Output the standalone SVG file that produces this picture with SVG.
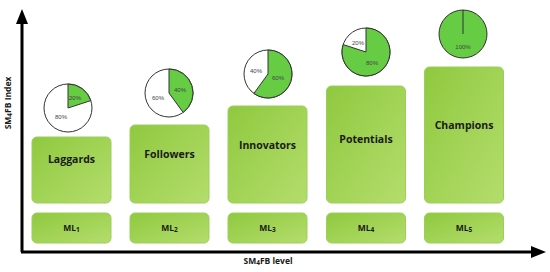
<svg xmlns="http://www.w3.org/2000/svg" width="550" height="272" viewBox="0 0 550 272">
<style>
.box{fill:url(#g);stroke:#9ccf5a;stroke-width:1}
.lbl{font-family:"Open Sans","Liberation Sans",sans-serif;font-weight:bold;font-size:10.5px;fill:#1a1a1a;text-anchor:middle}
.ml{font-family:"Open Sans","Liberation Sans",sans-serif;font-weight:bold;font-size:8.5px;fill:#1a1a1a;text-anchor:middle}
.ax{font-family:"Open Sans","Liberation Sans",sans-serif;font-weight:bold;font-size:8.5px;fill:#1a1a1a;text-anchor:middle}
.pw{fill:#ffffff;stroke:#333333;stroke-width:1}
.pg{fill:#66cc44;stroke:#333333;stroke-width:1}
.pt{font-family:"Liberation Sans",Arial,sans-serif;font-size:6px;fill:#444444;text-anchor:middle}
.axis{stroke:#000;stroke-width:3;fill:none}
</style>
<defs>
<linearGradient id="g" x1="0" y1="0" x2="1" y2="1">
<stop offset="0" stop-color="#8fc93f"/>
<stop offset="1" stop-color="#b4dd6c"/>
</linearGradient>
<marker id="ah" markerWidth="5" markerHeight="4" refX="0" refY="2" orient="auto" markerUnits="strokeWidth">
<path d="M0,0 L5,2 L0,4 Z" fill="#000"/>
</marker>
</defs>
<g id="connectors">
<path class="axis" d="M22,252 L22,24" marker-end="url(#ah)"/>
<path class="axis" d="M21,252 L531,252" marker-end="url(#ah)"/>
</g>
<text class="ax" transform="translate(11,103) rotate(-90)">SM<tspan font-size="6.5px" dy="1">4</tspan><tspan dy="-1">FB Index</tspan></text>
<text class="ax" x="268" y="264">SM<tspan font-size="6.5px" dy="1">4</tspan><tspan dy="-1">FB level</tspan></text>
<g id="laggards">
<rect class="box" x="32" y="137" width="79" height="66" rx="5"/>
<text class="lbl" x="71.5" y="163">Laggards</text>
</g>
<g id="followers">
<rect class="box" x="130" y="125" width="79" height="78" rx="5"/>
<text class="lbl" x="169.5" y="158">Followers</text>
</g>
<g id="innovators">
<rect class="box" x="228" y="106" width="79" height="97" rx="5"/>
<text class="lbl" x="267.5" y="149">Innovators</text>
</g>
<g id="potentials">
<rect class="box" x="326.5" y="86" width="79" height="117" rx="5"/>
<text class="lbl" x="366" y="143">Potentials</text>
</g>
<g id="champions">
<rect class="box" x="424.5" y="67" width="79" height="136" rx="5"/>
<text class="lbl" x="464" y="129">Champions</text>
</g>
<g id="ml1"><rect class="box" x="32" y="213" width="79" height="30" rx="5"/><text class="ml" x="71.5" y="231">ML<tspan font-size="6.5px" dy="1">1</tspan></text></g>
<g id="ml2"><rect class="box" x="130" y="213" width="79" height="30" rx="5"/><text class="ml" x="169.5" y="231">ML<tspan font-size="6.5px" dy="1">2</tspan></text></g>
<g id="ml3"><rect class="box" x="228" y="213" width="79" height="30" rx="5"/><text class="ml" x="267.5" y="231">ML<tspan font-size="6.5px" dy="1">3</tspan></text></g>
<g id="ml4"><rect class="box" x="326.5" y="213" width="79" height="30" rx="5"/><text class="ml" x="366" y="231">ML<tspan font-size="6.5px" dy="1">4</tspan></text></g>
<g id="ml5"><rect class="box" x="424.5" y="213" width="79" height="30" rx="5"/><text class="ml" x="464" y="231">ML<tspan font-size="6.5px" dy="1">5</tspan></text></g>
<g id="pie1">
<circle class="pw" cx="68" cy="108" r="24"/>
<path class="pg" d="M68,108 L68,84 A24,24 0 0 1 90.83,100.58 Z"/>
<text class="pt" x="75" y="100">20%</text>
<text class="pt" x="61" y="119">80%</text>
</g>
<g id="pie2">
<circle class="pw" cx="169" cy="93" r="24"/>
<path class="pg" d="M169,93 L169,69 A24,24 0 0 1 183.11,112.42 Z"/>
<text class="pt" x="180" y="92">40%</text>
<text class="pt" x="158" y="100">60%</text>
</g>
<g id="pie3">
<circle class="pw" cx="268" cy="74" r="24"/>
<path class="pg" d="M268,74 L268,50 A24,24 0 1 1 253.89,93.42 Z"/>
<text class="pt" x="256" y="73">40%</text>
<text class="pt" x="278" y="80">60%</text>
</g>
<g id="pie4">
<circle class="pw" cx="366" cy="52" r="24"/>
<path class="pg" d="M366,52 L366,28 A24,24 0 1 1 343.17,44.58 Z"/>
<text class="pt" x="358" y="45">20%</text>
<text class="pt" x="372" y="65">80%</text>
</g>
<g id="pie5">
<circle class="pg" cx="463" cy="34" r="24"/>
<line x1="463" y1="34" x2="463" y2="10" stroke="#333" stroke-width="1"/>
<text class="pt" x="463" y="49">100%</text>
</g>
</svg>
